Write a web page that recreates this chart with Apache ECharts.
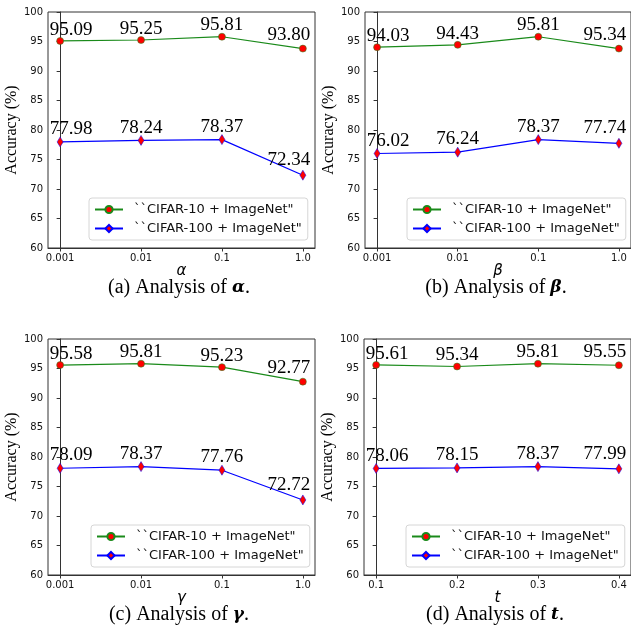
<!DOCTYPE html>
<html>
<head>
<meta charset="utf-8">
<script src="https://cdn.jsdelivr.net/npm/echarts@6/dist/echarts.min.js"></script>
<style>
html, body { margin: 0; padding: 0; background: #fff; }
#main { width: 631px; height: 629px; }
</style>
</head>
<body>
<div id="main"></div>
<script>
// tick labels
var xLabelsLog = ['0.001', '0.01', '0.1', '1.0'];
var xLabelsT = ['0.1', '0.2', '0.3', '0.4'];
var legendNames = ['``CIFAR-10 + ImageNet"', '``CIFAR-100 + ImageNet"'];

// (a) alpha
var alphaC10 = [95.09, 95.25, 95.81, 93.80];
var alphaC100 = [77.98, 78.24, 78.37, 72.34];
// (b) beta  (last green label in the figure reads 95.34 though the point sits at 93.8)
var betaC10 = [94.03, 94.43, 95.81, 93.80];
var betaC10Text = ['94.03', '94.43', '95.81', '95.34'];
var betaC100 = [76.02, 76.24, 78.37, 77.74];
// (c) gamma
var gammaC10 = [95.58, 95.81, 95.23, 92.77];
var gammaC100 = [78.09, 78.37, 77.76, 72.72];
// (d) t
var tC10 = [95.61, 95.34, 95.81, 95.55];
var tC100 = [78.06, 78.15, 78.37, 77.99];

var panels = [
    { grid: [48, 12], xl: xLabelsLog, axisName: 'α', c10: alphaC10, c100: alphaC100, cap: '(a) Analysis of {g|α}.', leg: [89, 198] },
    { grid: [365, 12], xl: xLabelsLog, axisName: 'β', c10: betaC10, c10Text: betaC10Text, c100: betaC100, cap: '(b) Analysis of {g|β}.', leg: [407, 198] },
    { grid: [48, 339], xl: xLabelsLog, axisName: 'γ', c10: gammaC10, c100: gammaC100, cap: '(c) Analysis of {g|γ}.', leg: [91, 525] },
    { grid: [364, 339], xl: xLabelsT, axisName: 't', c10: tC10, c100: tC100, cap: '(d) Analysis of {g|t}.', leg: [406, 525] }
];

var serif = '"Liberation Serif", "Times New Roman", serif';
var sans = '"DejaVu Sans", sans-serif';
var frame = '#333';
var labelShiftX = [11, 0, 0, -14];
var labelShiftY = [0, 0, 0, -2];

function points(vals, texts) {
    return vals.map(function (v, i) {
        return {
            value: [i, v],
            label: {
                offset: [labelShiftX[i], labelShiftY[i]],
                formatter: texts ? texts[i] : v.toFixed(2)
            }
        };
    });
}

var option = {
    backgroundColor: '#fff',
    animation: false,
    grid: [], xAxis: [], yAxis: [], series: [], legend: [], title: []
};

panels.forEach(function (p, k) {
    option.grid.push({
        left: p.grid[0], top: p.grid[1], width: 267, height: 236,
        show: true, borderColor: frame, borderWidth: 1, backgroundColor: 'transparent'
    });
    var xl = p.xl;
    option.xAxis.push({
        type: 'value', gridIndex: k, min: -0.15, max: 3.15,
        name: p.axisName, nameLocation: 'middle', nameGap: 15,
        nameTextStyle: { fontFamily: sans, fontStyle: 'italic', fontSize: 15, color: '#000' },
        axisLine: { show: true, lineStyle: { color: frame, width: 1 } },
        axisTick: { show: true, length: 3.5, customValues: [0, 1, 2, 3], lineStyle: { color: frame } },
        axisLabel: {
            customValues: [0, 1, 2, 3], margin: 5, fontFamily: sans, fontSize: 10, color: '#111',
            formatter: function (v) { return xl[Math.round(v)]; }
        },
        splitLine: { show: false }
    });
    option.yAxis.push({
        type: 'value', gridIndex: k, min: 60, max: 100, interval: 5,
        name: 'Accuracy (%)', nameLocation: 'middle', nameGap: 27,
        nameTextStyle: { fontFamily: serif, fontSize: 16, color: '#000' },
        axisLine: { show: true, lineStyle: { color: frame, width: 1 } },
        axisTick: { show: true, length: 3.5, lineStyle: { color: frame } },
        axisLabel: { margin: 5, fontFamily: sans, fontSize: 10, color: '#111' },
        splitLine: { show: false }
    });
    var lbl = {
        show: true, position: 'top', distance: -2,
        fontFamily: serif, fontSize: 19, color: '#000'
    };
    option.series.push({
        name: legendNames[0], type: 'line', xAxisIndex: k, yAxisIndex: k,
        data: points(p.c10, p.c10Text),
        symbol: 'circle', symbolSize: 7,
        lineStyle: { color: '#1a8a1a', width: 1.2 },
        itemStyle: { color: '#ff0000', borderColor: '#1a8a1a', borderWidth: 0.5 },
        label: lbl
    });
    option.series.push({
        name: legendNames[1], type: 'line', xAxisIndex: k, yAxisIndex: k,
        data: points(p.c100),
        symbol: 'diamond', symbolSize: [6, 10],
        lineStyle: { color: '#0000ff', width: 1.2 },
        itemStyle: { color: '#ff0000', borderColor: '#0000ff', borderWidth: 0.5 },
        label: lbl
    });
    option.legend.push({
        data: legendNames, orient: 'vertical',
        left: p.leg[0], top: p.leg[1],
        itemWidth: 28, itemHeight: 9, itemGap: 6,
        padding: [5, 6, 5, 5],
        backgroundColor: '#fff', borderColor: '#d6d6d6', borderWidth: 1, borderRadius: 3,
        textStyle: { fontFamily: sans, fontSize: 13, color: '#111', padding: [0, 0, 0, 6] }
    });
    option.title.push({
        text: p.cap, left: p.grid[0] + 131, top: p.grid[1] + 266, textAlign: 'center', padding: 0,
        textStyle: {
            fontFamily: serif, fontSize: 20, fontWeight: 'normal', color: '#000',
            rich: { g: { fontFamily: '"DejaVu Serif", serif', fontWeight: 'bold', fontStyle: 'italic', fontSize: 17, color: '#000' } }
        }
    });
});

var myChart = echarts.init(document.getElementById('main'));
myChart.setOption(option);
</script>
</body>
</html>
